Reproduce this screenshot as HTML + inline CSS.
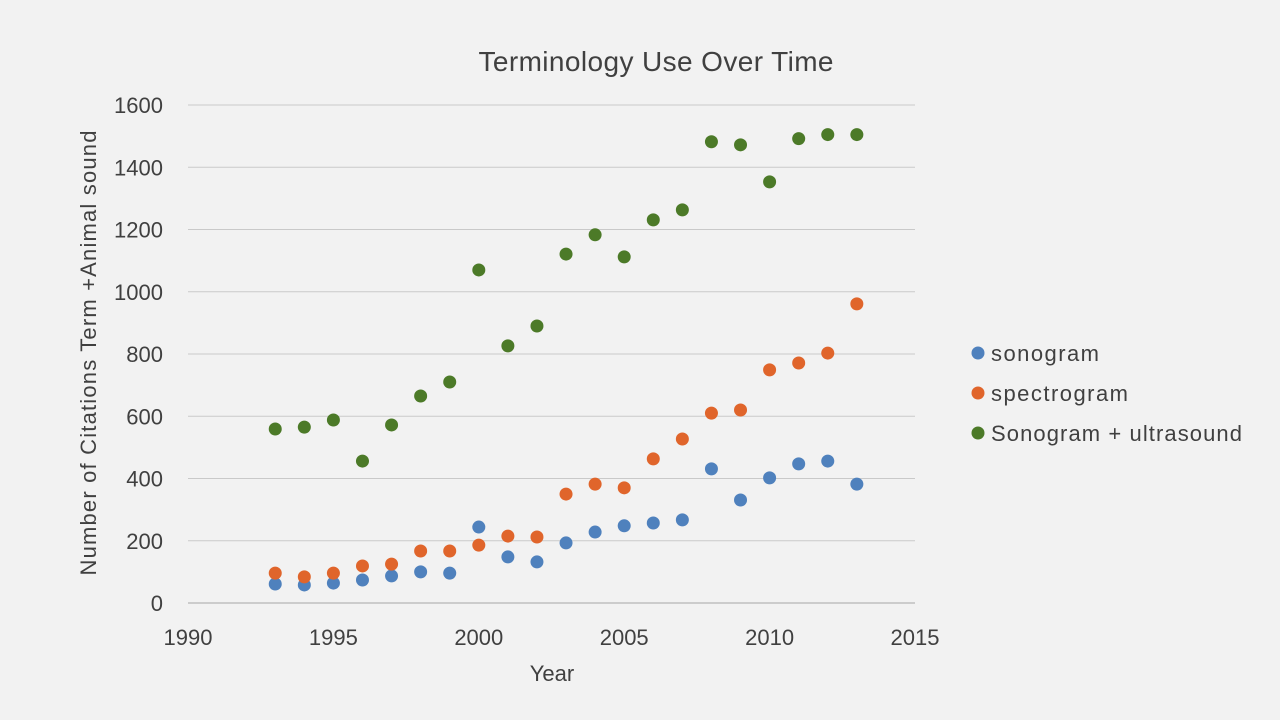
<!DOCTYPE html>
<html><head><meta charset="utf-8"><style>
body{margin:0;background:#f2f2f2;}
svg{display:block;font-family:"Liberation Sans",sans-serif;}
</style></head><body>
<svg id="chart" width="1280" height="720">
<rect width="1280" height="720" fill="#f2f2f2"/>
<text x="656" y="71" font-size="28" fill="#404040" text-anchor="middle" textLength="355">Terminology Use Over Time</text>
<g id="grid"></g><g id="axes"></g><g id="marks"></g>
<text x="552" y="681" font-size="22" fill="#404040" text-anchor="middle">Year</text>
<text transform="translate(96,353) rotate(-90)" font-size="22" fill="#404040" text-anchor="middle" textLength="445">Number of Citations Term +Animal sound</text>
<g id="legend"></g>
</svg>
<script>
const years=[1993,1994,1995,1996,1997,1998,1999,2000,2001,2002,2003,2004,2005,2006,2007,2008,2009,2010,2011,2012,2013];
const sonogram=[61,58,64,74,87,100,96,244,148,132,193,228,248,257,267,431,331,402,447,456,382];
const spectrogram=[96,84,96,119,125,167,167,186,215,212,350,382,370,463,527,610,620,749,771,803,961];
const sonoUltra=[559,565,588,456,572,665,710,1070,826,890,1121,1183,1112,1231,1263,1482,1472,1353,1492,1505,1505];
const xTicks=[1990,1995,2000,2005,2010,2015];
const yTicks=[0,200,400,600,800,1000,1200,1400,1600];
const seriesNames=["sonogram","spectrogram","Sonogram + ultrasound"];
const legendWidths=[108,137,251];
const colors=["#4f81bd","#e0652b","#4c7a28"];
const X0=188,X1=915,Y0=603,Y1=105;
const xs=v=>X0+(v-1990)/25*(X1-X0);
const ys=v=>Y0-(v/1600)*(Y0-Y1);
const NS="http://www.w3.org/2000/svg";
function mk(tag,attrs,parent){const e=document.createElementNS(NS,tag);for(const k in attrs)e.setAttribute(k,attrs[k]);parent.appendChild(e);return e;}
const grid=document.getElementById('grid'),axes=document.getElementById('axes'),marks=document.getElementById('marks'),legend=document.getElementById('legend');
yTicks.forEach(t=>{
 const l=mk('line',{x1:X0,x2:X1,y1:ys(t),y2:ys(t),stroke:t===0?'#a6a6a6':'#c9c9c9','stroke-width':1},grid);
 
 
 const tx=mk('text',{x:163,y:ys(t)+8,'font-size':22,fill:'#404040','text-anchor':'end'},axes);
 tx.textContent=t;
 
 
});
xTicks.forEach(t=>{
 const tx=mk('text',{x:xs(t),y:645,'font-size':22,fill:'#404040','text-anchor':'middle'},axes);
 tx.textContent=t;
 
 
});
[sonogram,spectrogram,sonoUltra].forEach((s,i)=>{
 s.forEach((v,j)=>{
  const c=mk('circle',{cx:xs(years[j]),cy:ys(v),r:6.5,fill:colors[i]},marks);
  
  
 });
 const ly=353+i*40;
 const lc=mk('circle',{cx:978,cy:ly,r:6.5,fill:colors[i]},legend);
 
 
 const lt=mk('text',{x:991,y:ly+8,'font-size':22,fill:'#404040',textLength:legendWidths[i]},legend);
 lt.textContent=seriesNames[i];
 
 
});
</script>
</body></html>
